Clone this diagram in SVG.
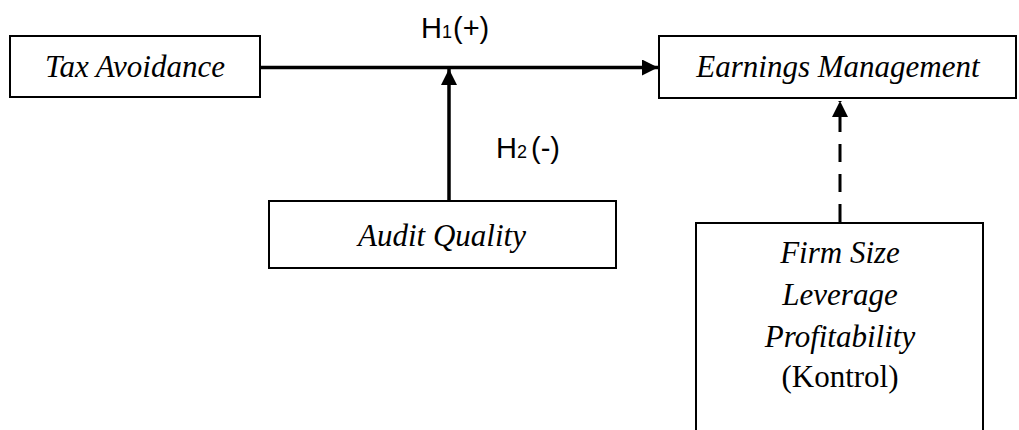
<svg xmlns="http://www.w3.org/2000/svg" width="1019" height="430" viewBox="0 0 1019 430">
<style>
.box{fill:#fff;stroke:#000;stroke-width:2}
.lbl{font-family:"Liberation Serif","Times New Roman",serif;font-style:italic;font-size:31px;fill:#000;text-anchor:middle}
.reg{font-family:"Liberation Serif","Times New Roman",serif;font-size:31px;fill:#000;text-anchor:middle}
.h{font-family:"Liberation Sans",Arial,sans-serif;font-size:29px;fill:#000}
.sub{font-size:18px}
.conn{stroke:#000;stroke-width:3.5;fill:none}
.dash{stroke-width:3;stroke-dasharray:18 12}
</style>
<defs>
<marker id="arr" markerWidth="16" markerHeight="16" refX="16" refY="8" orient="auto" markerUnits="userSpaceOnUse">
<path d="M0,0 L16,8 L0,16 Z" fill="#000"/>
</marker>
</defs>
<rect width="1019" height="430" fill="#fff"/>
<g id="connectors">
<line class="conn" x1="260" y1="67.5" x2="658" y2="67.5" marker-end="url(#arr)"/>
<line class="conn" x1="449" y1="201" x2="449" y2="69" marker-end="url(#arr)"/>
<line class="conn dash" x1="840" y1="222" x2="840" y2="101" marker-end="url(#arr)"/>
</g>
<g id="tax-avoidance">
<rect class="box" x="10" y="36" width="250" height="61"/>
<text class="lbl" x="135" y="77">Tax Avoidance</text>
</g>
<g id="earnings-management">
<rect class="box" x="659" y="36" width="357" height="62"/>
<text class="lbl" x="838" y="77">Earnings Management</text>
</g>
<g id="audit-quality">
<rect class="box" x="269" y="201" width="347" height="67"/>
<text class="lbl" x="442" y="246">Audit Quality</text>
</g>
<g id="controls">
<path class="box" d="M696,431 V223 H983 V431"/>
<text class="lbl" x="840" y="263">Firm Size</text>
<text class="lbl" x="840" y="305">Leverage</text>
<text class="lbl" x="840" y="347">Profitability</text>
<text class="reg" x="840" y="387">(Kontrol)</text>
</g>
<g id="h1">
<text class="h" x="421" y="38">H<tspan class="sub" x="442" y="38">1</tspan><tspan x="453" y="38">(+)</tspan></text>
</g>
<g id="h2">
<text class="h" x="496" y="158">H<tspan class="sub" x="517" y="158">2</tspan><tspan x="531" y="158">(-)</tspan></text>
</g>
</svg>
